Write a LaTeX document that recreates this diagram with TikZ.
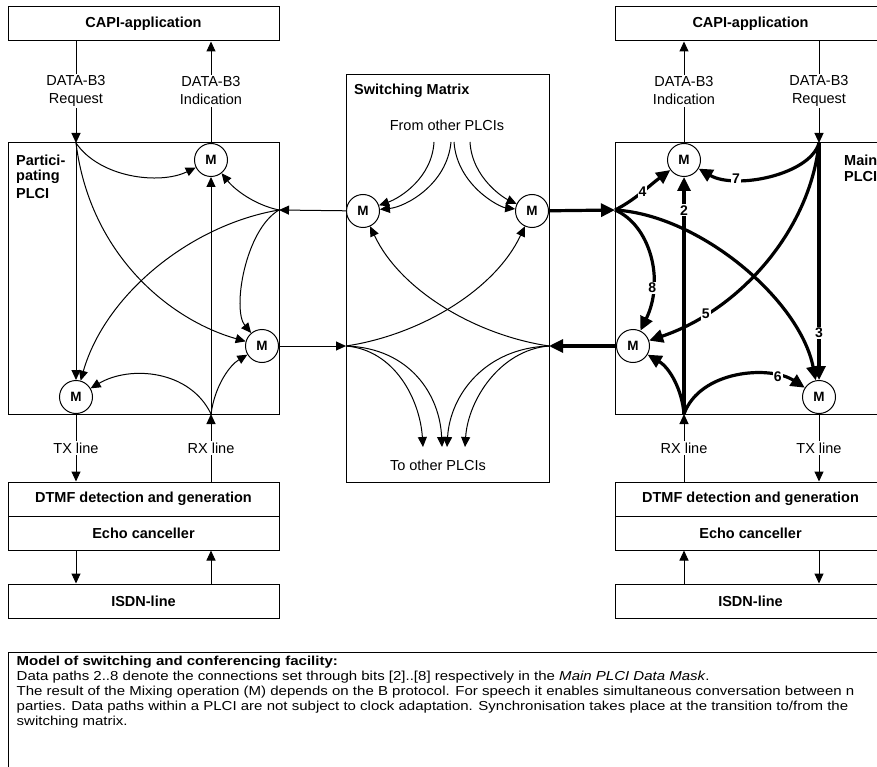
\documentclass[tikz,border=0pt]{standalone}
\usepackage{fontspec}
\setmainfont{Liberation Sans}
\newfontfamily\notefont[FakeStretch=1.155]{Liberation Sans}
\usetikzlibrary{arrows.meta}
\begin{document}
\begin{tikzpicture}[x=1pt,y=-1pt,
  ln/.style={line width=1pt},
  tk/.style={line width=3.2pt},
  tarr/.style={-{Triangle[length=10pt,width=9pt]}},
  karr/.style={-{Triangle[length=14pt,width=13pt]}},
  blk/.style={draw, line width=1pt, minimum width=271pt, minimum height=34pt, inner sep=0pt, font=\fontsize{14.5}{17}\selectfont\bfseries},
  mixer/.style={circle, draw, fill=white, minimum size=33pt, inner sep=0pt, line width=1pt, font=\fontsize{13.5}{15}\selectfont\bfseries},
  lbl/.style={fill=white, inner sep=1.5pt, align=center, font=\fontsize{14.5}{18}\selectfont},
  num/.style={fill=white, inner sep=1pt, font=\fontsize{14}{15}\selectfont\bfseries},
  ttl/.style={anchor=west, inner sep=0pt, font=\fontsize{14.5}{17}\selectfont\bfseries},
  note/.style={anchor=base west, inner sep=0pt, font=\fontsize{13}{15}\notefont}
]
\useasboundingbox (0,0) rectangle (877,767);
\clip (0,0) rectangle (877,767);

% ---------- left column ----------
\node[blk] (capL) at (143.5,24) {CAPI-application};
\node[blk, minimum height=271pt] (plciL) at (143.5,278.5) {};
\node[blk] (dtmfL) at (143.5,499) {DTMF detection and generation};
\node[blk] (echoL) at (143.5,533) {Echo canceller};
\node[blk] (isdnL) at (143.5,601) {ISDN-line};
\node[ttl] (plciLt) at (16,160) {Partici-};
\node[ttl] (plciLt2) at (16,177) {pating};
\node[ttl] (plciLt3) at (16,194) {PLCI};
\node[mixer] (mTL) at (211,160) {M};
\node[mixer] (mRL) at (262,346) {M};
\node[mixer] (mBL) at (76,397) {M};
\coordinate (reqL) at (76,143);
\coordinate (jL) at (279,210);
\coordinate (rxL) at (211,414);

% ---------- switching matrix ----------
\node[draw, line width=1pt, minimum width=203pt, minimum height=407pt, inner sep=0pt] (mat) at (447.5,278.5) {};
\node[ttl] (matt) at (354,91) {Switching Matrix};
\node[lbl, fill=none] (from) at (447,125) {From other PLCIs};
\node[lbl, fill=none] (to) at (438,465) {To other PLCIs};
\node[mixer] (mML) at (363,211) {M};
\node[mixer] (mMR) at (532,211) {M};
\coordinate (jML) at (346,346);
\coordinate (jMR) at (549,346);
\coordinate (f1) at (434,142);
\coordinate (f2) at (451,142);
\coordinate (f3) at (454,142);
\coordinate (f4) at (470,142);
\coordinate (t1) at (423,447);
\coordinate (t2) at (442,447);
\coordinate (t3) at (447,447);
\coordinate (t4) at (465,447);

% ---------- right column ----------
\node[blk] (capR) at (750.5,24) {CAPI-application};
\node[blk, minimum height=271pt] (plciR) at (750.5,278.5) {};
\node[blk] (dtmfR) at (750.5,499) {DTMF detection and generation};
\node[blk] (echoR) at (750.5,533) {Echo canceller};
\node[blk] (isdnR) at (750.5,601) {ISDN-line};
\node[ttl] (plciRt) at (844,160) {Main};
\node[ttl] (plciRt2) at (844,177) {PLCI};
\node[mixer] (mTR) at (684,160) {M};
\node[mixer] (mLR) at (633,346) {M};
\node[mixer] (mBR) at (819,397) {M};
\coordinate (reqR) at (819,143);
\coordinate (jR) at (615,210);
\coordinate (rxR) at (684,414);

% ---------- note box ----------
\node[draw, line width=1pt, minimum width=900pt, minimum height=160pt, anchor=north west, inner sep=0pt] (notebox) at (8,652) {};
\node[note] (n1) at (16.5,665) {\bfseries Model of switching and conferencing facility:};
\node[note] (n2) at (16.5,680) {Data paths 2..8 denote the connections set through bits [2]..[8] respectively in the \textit{Main PLCI Data Mask}.};
\node[note] (n3) at (16.5,695) {The result of the Mixing operation (M) depends on the B protocol. For speech it enables simultaneous conversation between n};
\node[note] (n4) at (16.5,710) {parties. Data paths within a PLCI are not subject to clock adaptation. Synchronisation takes place at the transition to/from the};
\node[note] (n5) at (16.5,725) {switching matrix.};

% ---------- left connectors ----------
\draw[ln,tarr] (capL.south -| reqL) -- (reqL);
\draw[ln,tarr] (mTL) -- (mTL |- capL.south);
\draw[ln,tarr] (reqL) .. controls (100,178) and (160,185) .. (mTL);
\draw[ln,tarr] (reqL) .. controls (90,255) and (170,320) .. (mRL);
\draw[ln,tarr] (reqL) -- (mBL);
\draw[ln,tarr] (mML) -- (jL);
\draw[ln,tarr] (jL) .. controls (255,205) and (235,190) .. (mTL);
\draw[ln,tarr] (jL) .. controls (245,230) and (232,310) .. (mRL);
\draw[ln,tarr] (jL) .. controls (190,225) and (105,295) .. (mBL);
\draw[ln,tarr] (rxL) -- (mTL);
\draw[ln,tarr] (rxL) .. controls (190,370) and (130,365) .. (mBL);
\draw[ln,tarr] (rxL) .. controls (215,385) and (230,365) .. (mRL);
\draw[ln,tarr] (mRL) -- (jML);
\draw[ln,tarr] (mBL) -- (mBL |- dtmfL.north);
\draw[ln,tarr] (dtmfL.north -| rxL) -- (rxL);
\draw[ln,tarr] (echoL.south -| mBL) -- (isdnL.north -| mBL);
\draw[ln,tarr] (isdnL.north -| rxL) -- (echoL.south -| rxL);

% ---------- matrix connectors ----------
\draw[ln,tarr] (f1) .. controls (432,178) and (400,198) .. (mML);
\draw[ln,tarr] (f2) .. controls (447,185) and (405,207) .. (mML);
\draw[ln,tarr] (f3) .. controls (457,185) and (499,207) .. (mMR);
\draw[ln,tarr] (f4) .. controls (472,178) and (504,198) .. (mMR);
\draw[ln,tarr] (jML) .. controls (420,335) and (495,290) .. (mMR);
\draw[ln,tarr] (jMR) .. controls (475,335) and (400,290) .. (mML);
\draw[ln,tarr] (jML) .. controls (395,350) and (420,400) .. (t1);
\draw[ln,tarr] (jML) .. controls (410,348) and (440,395) .. (t2);
\draw[ln,tarr] (jMR) .. controls (485,348) and (450,395) .. (t3);
\draw[ln,tarr] (jMR) .. controls (500,350) and (468,400) .. (t4);

% ---------- right connectors ----------
\draw[ln,tarr] (mTR) -- (mTR |- capR.south);
\draw[ln,tarr] (capR.south -| reqR) -- (reqR);
\draw[ln,tarr] (dtmfR.north -| rxR) -- (rxR);
\draw[ln,tarr] (mBR) -- (mBR |- dtmfR.north);
\draw[ln,tarr] (isdnR.north -| rxR) -- (echoR.south -| rxR);
\draw[ln,tarr] (echoR.south -| mBR) -- (isdnR.north -| mBR);

\draw[tk,karr] (mMR) -- (jR);
\draw[tk,karr] (jR) .. controls (700,215) and (800,300) .. (mBR);
\draw[tk,karr] (jR) .. controls (650,225) and (665,280) .. node[num,pos=0.72] (l8) {8} (mLR);
\draw[tk,karr] (jR) .. controls (635,200) and (650,185) .. node[num,pos=0.5] (l4) {4} (mTR);
\draw[tk,karr] (reqR) .. controls (810,230) and (740,310) .. node[num,pos=0.78] (l5) {5} (mLR);
\draw[tk,karr] (reqR) .. controls (810,175) and (735,190) .. node[num,pos=0.72] (l7) {7} (mTR);
\draw[tk,karr] (reqR) -- node[num,pos=0.8] (l3) {3} (mBR);
\draw[tk,karr] (rxR) -- node[num,pos=0.86] (l2) {2} (mTR);
\draw[tk,karr] (rxR) .. controls (682,390) and (670,368) .. (mLR);
\draw[tk,karr] (rxR) .. controls (700,370) and (770,365) .. node[num,pos=0.78] (l6) {6} (mBR);
\draw[tk,karr] (mLR) -- (jMR);

% ---------- line labels ----------
\node[lbl] (aL1) at (76,91) {DATA-B3\\Request};
\node[lbl] (aL2) at (211,91) {DATA-B3\\Indication};
\node[lbl] (aL3) at (76,448) {TX line};
\node[lbl] (aL4) at (211,448) {RX line};
\node[lbl] (aR1) at (684,91) {DATA-B3\\Indication};
\node[lbl] (aR2) at (819,91) {DATA-B3\\Request};
\node[lbl] (aR3) at (684,448) {RX line};
\node[lbl] (aR4) at (819,448) {TX line};
\end{tikzpicture}
\end{document}
